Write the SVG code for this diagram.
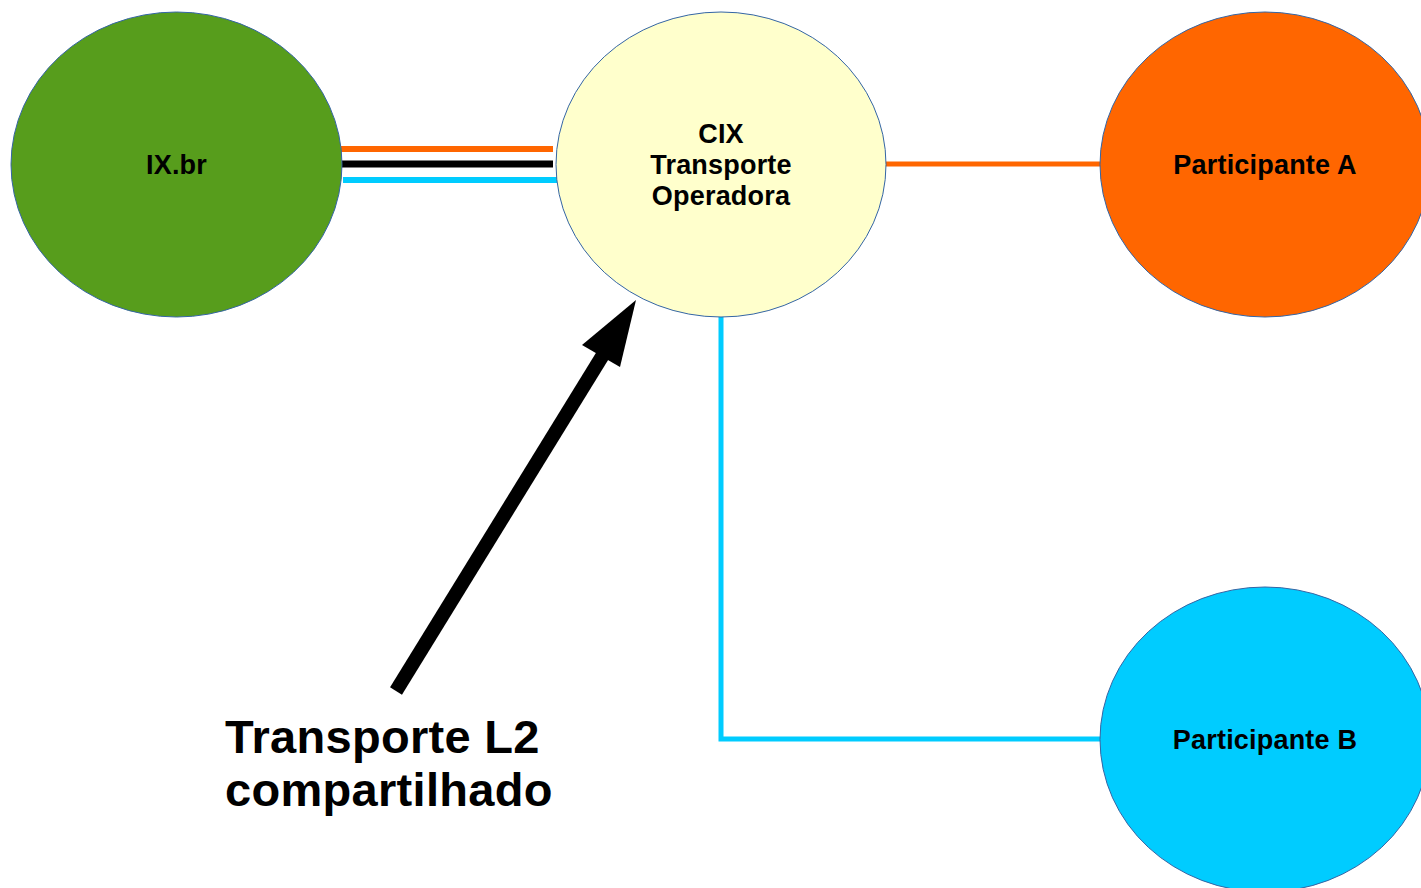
<svg xmlns="http://www.w3.org/2000/svg" width="1421" height="888" viewBox="0 0 1421 888">
<style>
.node{stroke:#3465a4;stroke-width:1}
.lbl{font-family:"Liberation Sans",Arial,sans-serif;font-weight:bold;font-size:27px;fill:#000;text-anchor:middle;letter-spacing:0.2px}
.big{font-family:"Liberation Sans",Arial,sans-serif;font-weight:bold;font-size:47px;fill:#000;letter-spacing:0.3px}
.c{fill:none}
</style>
<rect width="1421" height="888" fill="#fff"/>
<g id="connectors">
<line class="c" x1="341" y1="149" x2="553" y2="149" stroke="#ff6600" stroke-width="6"/>
<line class="c" x1="342" y1="164" x2="553" y2="164" stroke="#000" stroke-width="7"/>
<line class="c" x1="343" y1="180" x2="557" y2="180" stroke="#00ccff" stroke-width="6"/>
<line class="c" x1="885" y1="164" x2="1101" y2="164" stroke="#ff6600" stroke-width="5"/>
<polyline class="c" points="721,316 721,739 1101,739" stroke="#00ccff" stroke-width="5"/>
<g id="arrow">
<line x1="396" y1="691" x2="606" y2="350" stroke="#000" stroke-width="14"/>
<polygon points="636,300 582,345 620,367" fill="#000"/>
</g>
</g>
<g id="ixbr">
<ellipse class="node" cx="176.5" cy="164.5" rx="165.5" ry="152.5" fill="#579d1c"/>
<text class="lbl" x="176.5" y="174">IX.br</text>
</g>
<g id="cix">
<ellipse class="node" cx="721" cy="164.5" rx="165" ry="152.5" fill="#ffffcc"/>
<text class="lbl" x="721" y="143">CIX</text>
<text class="lbl" x="721" y="174">Transporte</text>
<text class="lbl" x="721" y="205">Operadora</text>
</g>
<g id="partA">
<ellipse class="node" cx="1265" cy="164.5" rx="165" ry="152.5" fill="#ff6600"/>
<text class="lbl" x="1265" y="174">Participante A</text>
</g>
<g id="partB">
<ellipse class="node" cx="1265" cy="739.5" rx="165" ry="152.5" fill="#00ccff"/>
<text class="lbl" x="1265" y="749">Participante B</text>
</g>
<g id="label">
<text class="big" x="225" y="753">Transporte L2</text>
<text class="big" x="225" y="806">compartilhado</text>
</g>
</svg>
